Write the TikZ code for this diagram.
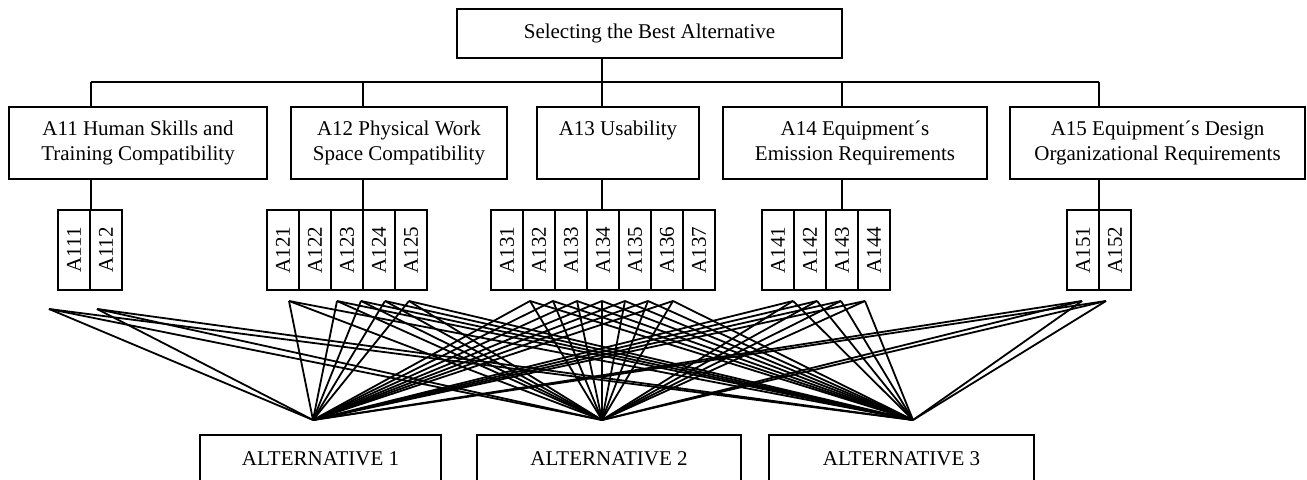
\documentclass[tikz,border=0pt]{standalone}
\usepackage{fontspec}
\setmainfont{Liberation Serif}
\usetikzlibrary{positioning}
\tikzset{
  every picture/.style={line width=0.9pt},
  txt/.style={font=\fontsize{10.5}{12.5}\selectfont},
  goal/.style={draw, txt, minimum width=192.5pt, minimum height=24.5pt, inner sep=0pt},
  crit/.style={draw, txt, align=center, minimum width=#1, minimum height=36pt, inner sep=0pt},
  sub/.style={draw, txt, minimum width=16pt, minimum height=40pt, inner sep=0pt},
  alt/.style={draw, txt, minimum width=#1, minimum height=24pt, inner sep=0pt},
  link/.style={line width=0.9pt},
}

\begin{document}
\begin{tikzpicture}[x=0.5pt, y=-0.5pt]
  \clip (0,0) rectangle (1307,480);
  % goal
  \node[goal] (top) at (649.5,33.5) {Selecting the Best Alternative};
  % criteria
  \node[crit=129pt]   (c11) at (138,143)    {A11 Human Skills and\\Training Compatibility};
  \node[crit=108pt]   (c12) at (399,143)    {A12 Physical Work\\Space Compatibility};
  \node[crit=81pt]    (c13) at (618,143)    {A13 Usability\\\vphantom{y}};
  \node[crit=132pt]   (c14) at (855,143)    {A14 Equipment´s\\Emission Requirements};
  \node[crit=147.5pt] (c15) at (1157.5,143) {A15 Equipment´s Design\\Organizational Requirements};
  % sub-criteria and the points their links leave from
  \foreach \s/\lx/\fx/\fy in {111/74/49/309, 112/106/97/309,
      121/283/289/301, 122/315/337/301, 123/347/361/301, 124/379/385/301, 125/411/409/301,
      131/507/530/301, 132/539/553/301, 133/571/577/301, 134/603/602/301, 135/635/625/301, 136/667/648/301, 137/699/673/301,
      141/778/793/301, 142/810/817/301, 143/842/841/301, 144/874/865/301,
      151/1083/1082/301, 152/1115/1106/301} {
    \node[sub] (a\s) at (\lx,250) {\rotatebox{90}{A\s}};
    \coordinate (f\s) at (\fx,\fy);
  }
  % alternatives
  \node[alt=120.5pt] (alt1) at (320.5,459) {ALTERNATIVE 1};
  \node[alt=132pt]   (alt2) at (609,459)   {ALTERNATIVE 2};
  \node[alt=132.5pt] (alt3) at (901.5,459) {ALTERNATIVE 3};
  \coordinate (p1) at (313,420);
  \coordinate (p2) at (602,420);
  \coordinate (p3) at (913,420);
  % tree
  \coordinate (j1) at (91,82);
  \coordinate (j2) at (363,82);
  \coordinate (j3) at (602,82);
  \coordinate (j4) at (842,82);
  \coordinate (j5) at (1099,82);
  \draw[link] (top.south -| j3) -- (j3);
  \draw[link] (j1) -- (j5);
  \foreach \i in {1,...,5}
    \draw[link] (j\i) -- (j\i |- c1\i.north) (j\i |- c1\i.south) -- (j\i |- a1\i1.north);
  % every sub-criterion to every alternative
  \foreach \s in {111,112,121,122,123,124,125,131,132,133,134,135,136,137,141,142,143,144,151,152}
    \foreach \k in {1,2,3}
      \draw[link] (f\s) -- (p\k);
\end{tikzpicture}
\end{document}
